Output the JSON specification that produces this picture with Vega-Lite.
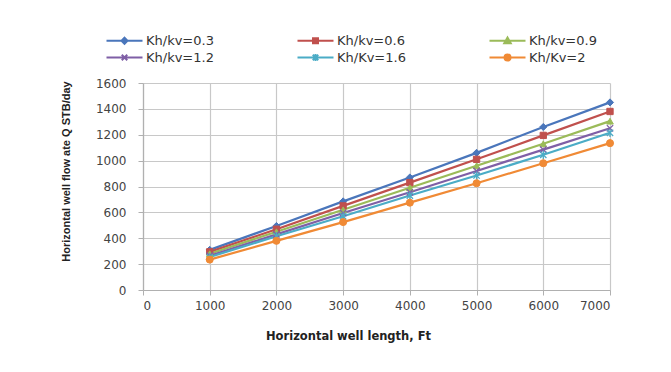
{
  "$schema": "https://vega.github.io/schema/vega-lite/v6.json",
  "width": 467,
  "height": 207,
  "autosize": {"type": "none"},
  "padding": {"left": 143, "top": 83, "right": 61, "bottom": 82},
  "background": "white",
  "config": {
    "view": {"stroke": null},
    "font": "DejaVu Sans"
  },
  "data": {
    "values": [
      {"series": "Kh/kv=0.3", "length": 1000, "q": 310},
      {"series": "Kh/kv=0.3", "length": 2000, "q": 495},
      {"series": "Kh/kv=0.3", "length": 3000, "q": 685},
      {"series": "Kh/kv=0.3", "length": 4000, "q": 870},
      {"series": "Kh/kv=0.3", "length": 5000, "q": 1060},
      {"series": "Kh/kv=0.3", "length": 6000, "q": 1260},
      {"series": "Kh/kv=0.3", "length": 7000, "q": 1450},
      {"series": "Kh/kv=0.6", "length": 1000, "q": 295},
      {"series": "Kh/kv=0.6", "length": 2000, "q": 470},
      {"series": "Kh/kv=0.6", "length": 3000, "q": 650},
      {"series": "Kh/kv=0.6", "length": 4000, "q": 830},
      {"series": "Kh/kv=0.6", "length": 5000, "q": 1010},
      {"series": "Kh/kv=0.6", "length": 6000, "q": 1195},
      {"series": "Kh/kv=0.6", "length": 7000, "q": 1380},
      {"series": "Kh/kv=0.9", "length": 1000, "q": 280},
      {"series": "Kh/kv=0.9", "length": 2000, "q": 450},
      {"series": "Kh/kv=0.9", "length": 3000, "q": 620},
      {"series": "Kh/kv=0.9", "length": 4000, "q": 790},
      {"series": "Kh/kv=0.9", "length": 5000, "q": 960},
      {"series": "Kh/kv=0.9", "length": 6000, "q": 1130},
      {"series": "Kh/kv=0.9", "length": 7000, "q": 1305},
      {"series": "Kh/kv=1.2", "length": 1000, "q": 265},
      {"series": "Kh/kv=1.2", "length": 2000, "q": 430},
      {"series": "Kh/kv=1.2", "length": 3000, "q": 595},
      {"series": "Kh/kv=1.2", "length": 4000, "q": 755},
      {"series": "Kh/kv=1.2", "length": 5000, "q": 920},
      {"series": "Kh/kv=1.2", "length": 6000, "q": 1085},
      {"series": "Kh/kv=1.2", "length": 7000, "q": 1250},
      {"series": "Kh/Kv=1.6", "length": 1000, "q": 255},
      {"series": "Kh/Kv=1.6", "length": 2000, "q": 415},
      {"series": "Kh/Kv=1.6", "length": 3000, "q": 570},
      {"series": "Kh/Kv=1.6", "length": 4000, "q": 730},
      {"series": "Kh/Kv=1.6", "length": 5000, "q": 885},
      {"series": "Kh/Kv=1.6", "length": 6000, "q": 1045},
      {"series": "Kh/Kv=1.6", "length": 7000, "q": 1215},
      {"series": "Kh/Kv=2", "length": 1000, "q": 235},
      {"series": "Kh/Kv=2", "length": 2000, "q": 380},
      {"series": "Kh/Kv=2", "length": 3000, "q": 525},
      {"series": "Kh/Kv=2", "length": 4000, "q": 675},
      {"series": "Kh/Kv=2", "length": 5000, "q": 825},
      {"series": "Kh/Kv=2", "length": 6000, "q": 980},
      {"series": "Kh/Kv=2", "length": 7000, "q": 1135}
    ]
  },
  "encoding": {
    "x": {
      "field": "length", "type": "quantitative",
      "scale": {"domain": [0, 7000], "nice": false},
      "axis": {
        "values": [0, 1000, 2000, 3000, 4000, 5000, 6000, 7000],
        "format": "d",
        "title": "Horizontal well length, Ft",
        "titleFont": "DejaVu Sans", "titleFontSize": 11.5, "titleFontWeight": "bold", "titleColor": "#222222",
        "titlePadding": 19,
        "titleX": 205,
        "labelFontSize": 12, "labelColor": "#444444", "labelPadding": 5,
        "grid": true, "gridColor": "#c8c8c8", "gridWidth": 1.2,
        "domainColor": "#b0b0b0", "domainWidth": 1.2,
        "tickColor": "#b0b0b0", "tickSize": 5
      }
    },
    "y": {
      "field": "q", "type": "quantitative",
      "scale": {"domain": [0, 1600], "nice": false},
      "axis": {
        "values": [0, 200, 400, 600, 800, 1000, 1200, 1400, 1600],
        "format": "d",
        "title": "Horizontal well flow ate  Q  STB/day",
        "titleFont": "Liberation Sans", "titleFontSize": 11, "titleFontWeight": "bold", "titleColor": "#222222",
        "titlePadding": 24,
        "titleY": 88,
        "labelFontSize": 12, "labelColor": "#444444", "labelPadding": 12,
        "grid": true, "gridColor": "#c8c8c8", "gridWidth": 1.2,
        "domainColor": "#b0b0b0", "domainWidth": 1.2,
        "tickColor": "#b0b0b0", "tickSize": 5
      }
    }
  },
  "layer": [
    {
      "mark": {"type": "line", "strokeWidth": 2.2},
      "encoding": {
        "color": {
          "field": "series", "type": "nominal",
          "scale": {
            "domain": ["Kh/kv=0.3", "Kh/kv=0.6", "Kh/kv=0.9", "Kh/kv=1.2", "Kh/Kv=1.6", "Kh/Kv=2"],
            "range": ["#4a76bb", "#c0504d", "#9bbb59", "#7f5fa6", "#4bacc6", "#f08a35"]
          },
          "legend": {
            "title": null,
            "orient": "none",
            "legendX": -25,
            "legendY": -49,
            "direction": "horizontal",
            "columns": 3,
            "columnPadding": 79,
            "rowPadding": 2,
            "symbolSize": 100,
            "symbolStrokeWidth": 2,
            "labelOffset": 15,
            "labelFontSize": 13,
            "labelColor": "#333333",
            "labelFont": "DejaVu Sans",
            "encode": {
              "symbols": {
                "update": {
                  "shape": {"signal": "datum.value === 'Kh/kv=0.3' ? 'M-3.6,0H3.6M0,-0.6L0.6,0L0,0.6L-0.6,0Z' : datum.value === 'Kh/kv=0.6' ? 'M-3.6,0H3.6M-0.5,-0.5H0.5V0.5H-0.5Z' : datum.value === 'Kh/kv=0.9' ? 'M-3.6,0H3.6M0,-0.65L0.65,0.5H-0.65Z' : datum.value === 'Kh/kv=1.2' ? 'M-3.6,0H3.6M-0.55,-0.55L0.55,0.55M-0.55,0.55L0.55,-0.55' : datum.value === 'Kh/Kv=1.6' ? 'M-3.6,0H3.6M-0.55,-0.55L0.55,0.55M-0.55,0.55L0.55,-0.55M0,-0.7V0.7' : 'M-3.6,0H3.6M-0.6,0A0.6,0.6 0 1,0 0.6,0A0.6,0.6 0 1,0 -0.6,0Z'"},
                  "fill": {"scale": "color", "field": "value"},
                  "stroke": {"scale": "color", "field": "value"},
                  "strokeWidth": {"value": 2},
                  "opacity": {"value": 1}
                }
              }
            }
          }
        }
      }
    },
    {
      "transform": [{"filter": "datum.series === 'Kh/kv=0.3'"}],
      "mark": {"type": "point", "shape": "diamond", "filled": true, "size": 50, "fill": "#4a76bb", "stroke": "#4a76bb", "strokeWidth": 1, "opacity": 1}
    },
    {
      "transform": [{"filter": "datum.series === 'Kh/kv=0.6'"}],
      "mark": {"type": "point", "shape": "square", "filled": true, "size": 40, "fill": "#c0504d", "stroke": "#c0504d", "strokeWidth": 1, "opacity": 1}
    },
    {
      "transform": [{"filter": "datum.series === 'Kh/kv=0.9'"}],
      "mark": {"type": "point", "shape": "triangle-up", "filled": true, "size": 45, "fill": "#9bbb59", "stroke": "#9bbb59", "strokeWidth": 1, "opacity": 1}
    },
    {
      "transform": [{"filter": "datum.series === 'Kh/kv=1.2'"}],
      "mark": {"type": "point", "shape": "M-1,-1L1,1M-1,1L1,-1", "filled": false, "size": 40, "stroke": "#7f5fa6", "strokeWidth": 1.3, "opacity": 1}
    },
    {
      "transform": [{"filter": "datum.series === 'Kh/Kv=1.6'"}],
      "mark": {"type": "point", "shape": "M-1,-1L1,1M-1,1L1,-1M0,-1.3V1.3", "filled": false, "size": 40, "stroke": "#4bacc6", "strokeWidth": 1.3, "opacity": 1}
    },
    {
      "transform": [{"filter": "datum.series === 'Kh/Kv=2'"}],
      "mark": {"type": "point", "shape": "circle", "filled": true, "size": 50, "fill": "#f08a35", "stroke": "#f08a35", "strokeWidth": 1, "opacity": 1}
    }
  ]
}
